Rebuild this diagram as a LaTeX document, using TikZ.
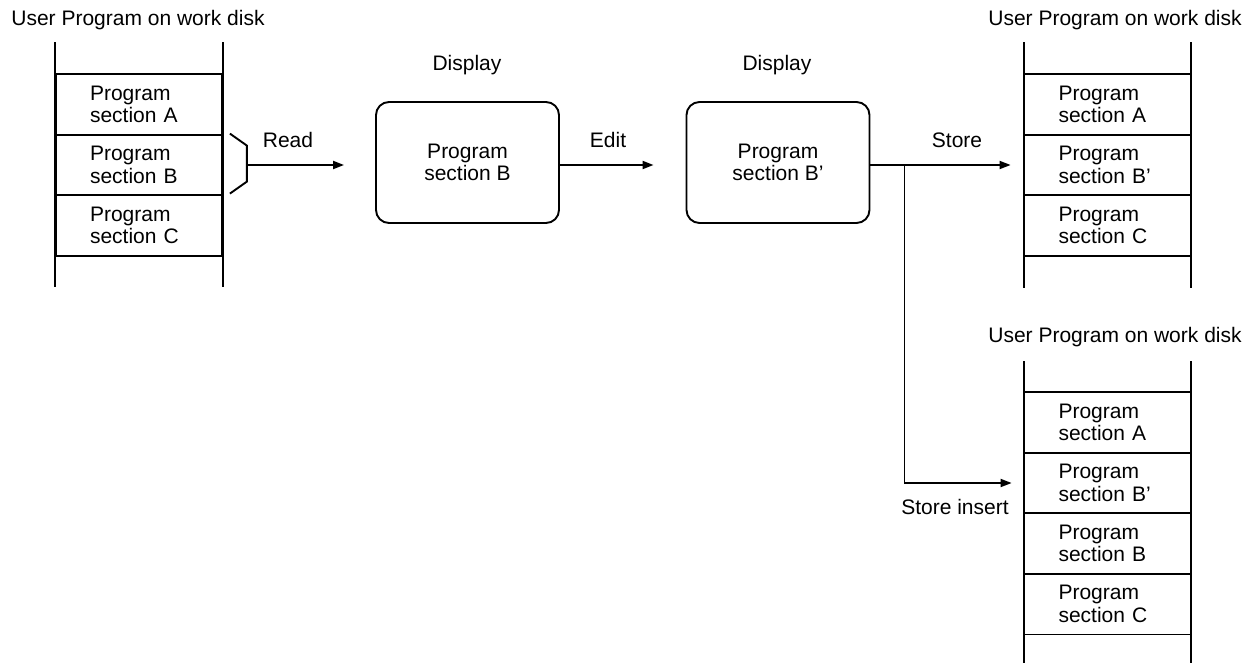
\documentclass[tikz,border=0pt]{standalone}
\usepackage{fontspec}
\setmainfont{Liberation Sans}
\usetikzlibrary{arrows.meta,calc}
\begin{document}
\begin{tikzpicture}[x=1pt,y=-1pt, line width=1.8pt,
  every node/.style={font=\fontsize{21}{22.5}\selectfont},
  cell/.style={draw, line width=1.8pt, minimum width=166pt, minimum height=61pt,
    text width=98pt, inner xsep=34pt, inner ysep=0pt, align=left},
  dispbox/.style={draw, rounded corners=13pt, minimum width=183pt, minimum height=121pt,
    align=center, line width=1.9pt},
  lbl/.style={inner sep=0pt},
  rail/.style={line width=1.9pt},
  arr/.style={-{Triangle[length=11pt,width=8pt]}, line width=1.9pt}]
\useasboundingbox (0,0) rectangle (1252,663);

% ---------- left stack ----------
\node[lbl] (lt) at (138,20) {User Program on work disk};
\node[cell] (la) at (139,104.5) {Program\\section A};
\node[cell] (lb) at (139,165) {Program\\section B};
\node[cell] (lc) at (139,225.5) {Program\\section C};
\draw[rail] ($(la.north west)+(0,-31)$) -- ($(lc.south west)+(0,30)$);
\draw[rail] ($(la.north east)+(0,-31)$) -- ($(lc.south east)+(0,30)$);

% brace
\draw[line width=1.9pt] ($(lb.north east)+(7,0)$) -- ++(17,12) -- ++(0,36) -- ++(-17,12);
\coordinate (rd) at ($(lb.east)+(24,0)$);

% ---------- display boxes ----------
\node[lbl] (d1) at (467,65) {Display};
\node[dispbox] (b1) at (467.5,162.5) {Program\\section B};
\node[lbl] (d2) at (777,65) {Display};
\node[dispbox] (b2) at (778,162.5) {Program\\section B'};

% ---------- right top stack ----------
\node[lbl] (rt) at (1115,20) {User Program on work disk};
\node[cell] (ra) at (1107.5,104.5) {Program\\section A};
\node[cell] (rb) at (1107.5,165) {Program\\section B'};
\node[cell] (rc) at (1107.5,225.5) {Program\\section C};
\draw[rail] ($(ra.north west)+(0,-31)$) -- ($(rc.south west)+(0,31)$);
\draw[rail] ($(ra.north east)+(0,-31)$) -- ($(rc.south east)+(0,31)$);

% ---------- right lower stack ----------
\node[lbl] (qt) at (1115,337) {User Program on work disk};
\node[cell] (qa) at (1107.5,422.5) {Program\\section A};
\node[cell] (qb) at (1107.5,483) {Program\\section B'};
\node[cell] (qc) at (1107.5,543.5) {Program\\section B};
\node[cell] (qd) at (1107.5,604) {Program\\section C};
\draw[rail] ($(qa.north west)+(0,-30)$) -- ($(qd.south west)+(0,30)$);
\draw[rail] ($(qa.north east)+(0,-30)$) -- ($(qd.south east)+(0,30)$);

% ---------- connectors ----------
\draw[arr, shorten >=31pt] (rd) -- (rd -| b1.west);
\node[lbl] (lread) at (288,140) {Read};

\draw[arr, shorten >=32pt] (b1.east |- rd) -- (b2.west |- rd);
\node[lbl] (ledit) at (608,140) {Edit};

\coordinate (br) at ($(b2.east |- rd)+(34,0)$);
\draw[arr, shorten >=13pt] (b2.east |- rd) -- (rb.west);
\node[lbl] (lstore) at (957,140) {Store};

\draw[arr, shorten >=12pt] (br) |- (qb.west);
\node[lbl] (lins) at (955,507) {Store insert};
\end{tikzpicture}
\end{document}
